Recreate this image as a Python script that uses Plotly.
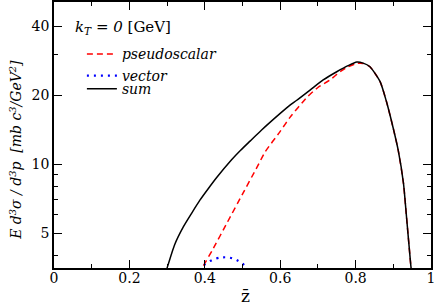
import plotly.graph_objects as go
import numpy as np

# data
z_sum = [0.295, 0.30, 0.32, 0.343, 0.365, 0.387, 0.41, 0.431, 0.471, 0.495, 0.52, 0.55, 0.60, 0.626, 0.644,
         0.68, 0.714, 0.75, 0.78, 0.803, 0.82, 0.838, 0.865, 0.882, 0.90, 0.913, 0.927, 0.935, 0.946, 0.949]
y_sum = [3.3, 3.52, 4.45, 5.32, 6.1, 6.96, 7.85, 8.72, 10.45, 11.5, 12.6, 14.06, 16.65, 18.1, 19.0,
         21.1, 23.3, 25.3, 26.9, 27.9, 27.6, 26.6, 22.9, 18.7, 14.3, 11.5, 8.24, 5.89, 3.68, 3.3]

z_ps = [0.385, 0.393, 0.42, 0.46, 0.50, 0.54, 0.56, 0.60, 0.626, 0.67, 0.70, 0.732,
        0.76, 0.78, 0.803, 0.82, 0.838, 0.865, 0.882, 0.90, 0.913, 0.927, 0.935, 0.946, 0.949]
y_ps = [3.3, 3.52, 4.21, 5.58, 7.40, 9.80, 11.3, 13.9, 16.0, 19.5, 21.6, 23.3,
        25.4, 26.6, 27.5, 27.5, 26.6, 22.9, 18.7, 14.3, 11.5, 8.24, 5.89, 3.68, 3.3]

z_vec = [0.39, 0.40, 0.42, 0.44, 0.46, 0.48, 0.50, 0.51, 0.52]
y_vec = [3.4, 3.65, 3.82, 3.91, 3.92, 3.85, 3.68, 3.55, 3.35]

x_ticks = [0, 0.2, 0.4, 0.6, 0.8, 1]
y_ticks = [5, 10, 20, 40]
y_minor = [4, 6, 7, 8, 9, 30]

FONT = "DejaVu Serif"

fig = go.Figure()
fig.add_trace(go.Scatter(x=z_ps, y=y_ps, mode="lines", name="<i>pseudoscalar</i>", legend="legend",
                         line=dict(color="#ff0000", width=1.5, dash="6px,4px", shape="spline", smoothing=0.6)))
fig.add_trace(go.Scatter(x=z_vec, y=y_vec, mode="lines", name="<i>vector</i>", legend="legend2",
                         line=dict(color="#0000ff", width=2.2, dash="2px,5px", shape="spline", smoothing=0.6)))
fig.add_trace(go.Scatter(x=z_sum, y=y_sum, mode="lines", name="<i>sum</i>", legend="legend3",
                         line=dict(color="black", width=1.5, shape="spline", smoothing=0.6)))

leg = dict(x=0.074, xanchor="left", yanchor="middle", bgcolor="rgba(0,0,0,0)",
           font=dict(family=FONT, size=14), itemwidth=30, borderwidth=0)

fig.update_layout(
    width=436, height=307,
    margin=dict(l=54, r=5, t=2, b=39, autoexpand=False),
    paper_bgcolor="white", plot_bgcolor="white",
    font=dict(family=FONT, size=14, color="black"),
    showlegend=True,
    legend=dict(leg, y=0.803),
    legend2=dict(leg, y=0.722),
    legend3=dict(leg, y=0.672),
    xaxis=dict(range=[0, 1], tickvals=x_ticks, ticktext=[str(v) for v in x_ticks],
               ticks="inside", ticklen=8, tickwidth=1, tickcolor="black",
               showline=True, linecolor="black", linewidth=1.5, mirror="ticks",
               showgrid=False, zeroline=False, automargin=False, ticklabelstandoff=-4,
               minor=dict(tickvals=[0.1, 0.3, 0.5, 0.7, 0.9], ticks="inside", ticklen=4,
                          tickcolor="black", tickwidth=1),
               tickfont=dict(family=FONT, size=14)),
    yaxis=dict(type="log", range=[np.log10(3.52), np.log10(51)],
               tickvals=y_ticks, ticktext=[str(v) for v in y_ticks],
               ticks="inside", ticklen=8, tickwidth=1, tickcolor="black",
               showline=True, linecolor="black", linewidth=1.5, mirror="ticks",
               showgrid=False, zeroline=False, automargin=False,
               minor=dict(tickvals=y_minor, ticks="inside", ticklen=4,
                          tickcolor="black", tickwidth=1),
               tickfont=dict(family=FONT, size=14)),
)

fig.add_annotation(xref="paper", yref="paper", x=-0.103, y=0.445, xanchor="center", yanchor="middle",
                   textangle=-90, showarrow=False,
                   text="<i>E d<sup>3</sup>σ / d<sup>3</sup>p  [mb c<sup>3</sup>/GeV<sup>2</sup>]</i>",
                   font=dict(family=FONT, size=14))
fig.add_annotation(xref="paper", yref="paper", x=0.507, y=-0.105, xanchor="center", yanchor="middle",
                   text="z\u0304", showarrow=False, font=dict(family=FONT, size=17))
fig.add_annotation(xref="paper", yref="paper", x=0.05, y=0.905, xanchor="left", yanchor="middle",
                   text="<i>k<sub>T</sub> = 0</i> [GeV]", showarrow=False,
                   font=dict(family=FONT, size=15))

fig.write_html("out.html", post_script="document.body.style.margin='0';",
               config={"displayModeBar": False})
